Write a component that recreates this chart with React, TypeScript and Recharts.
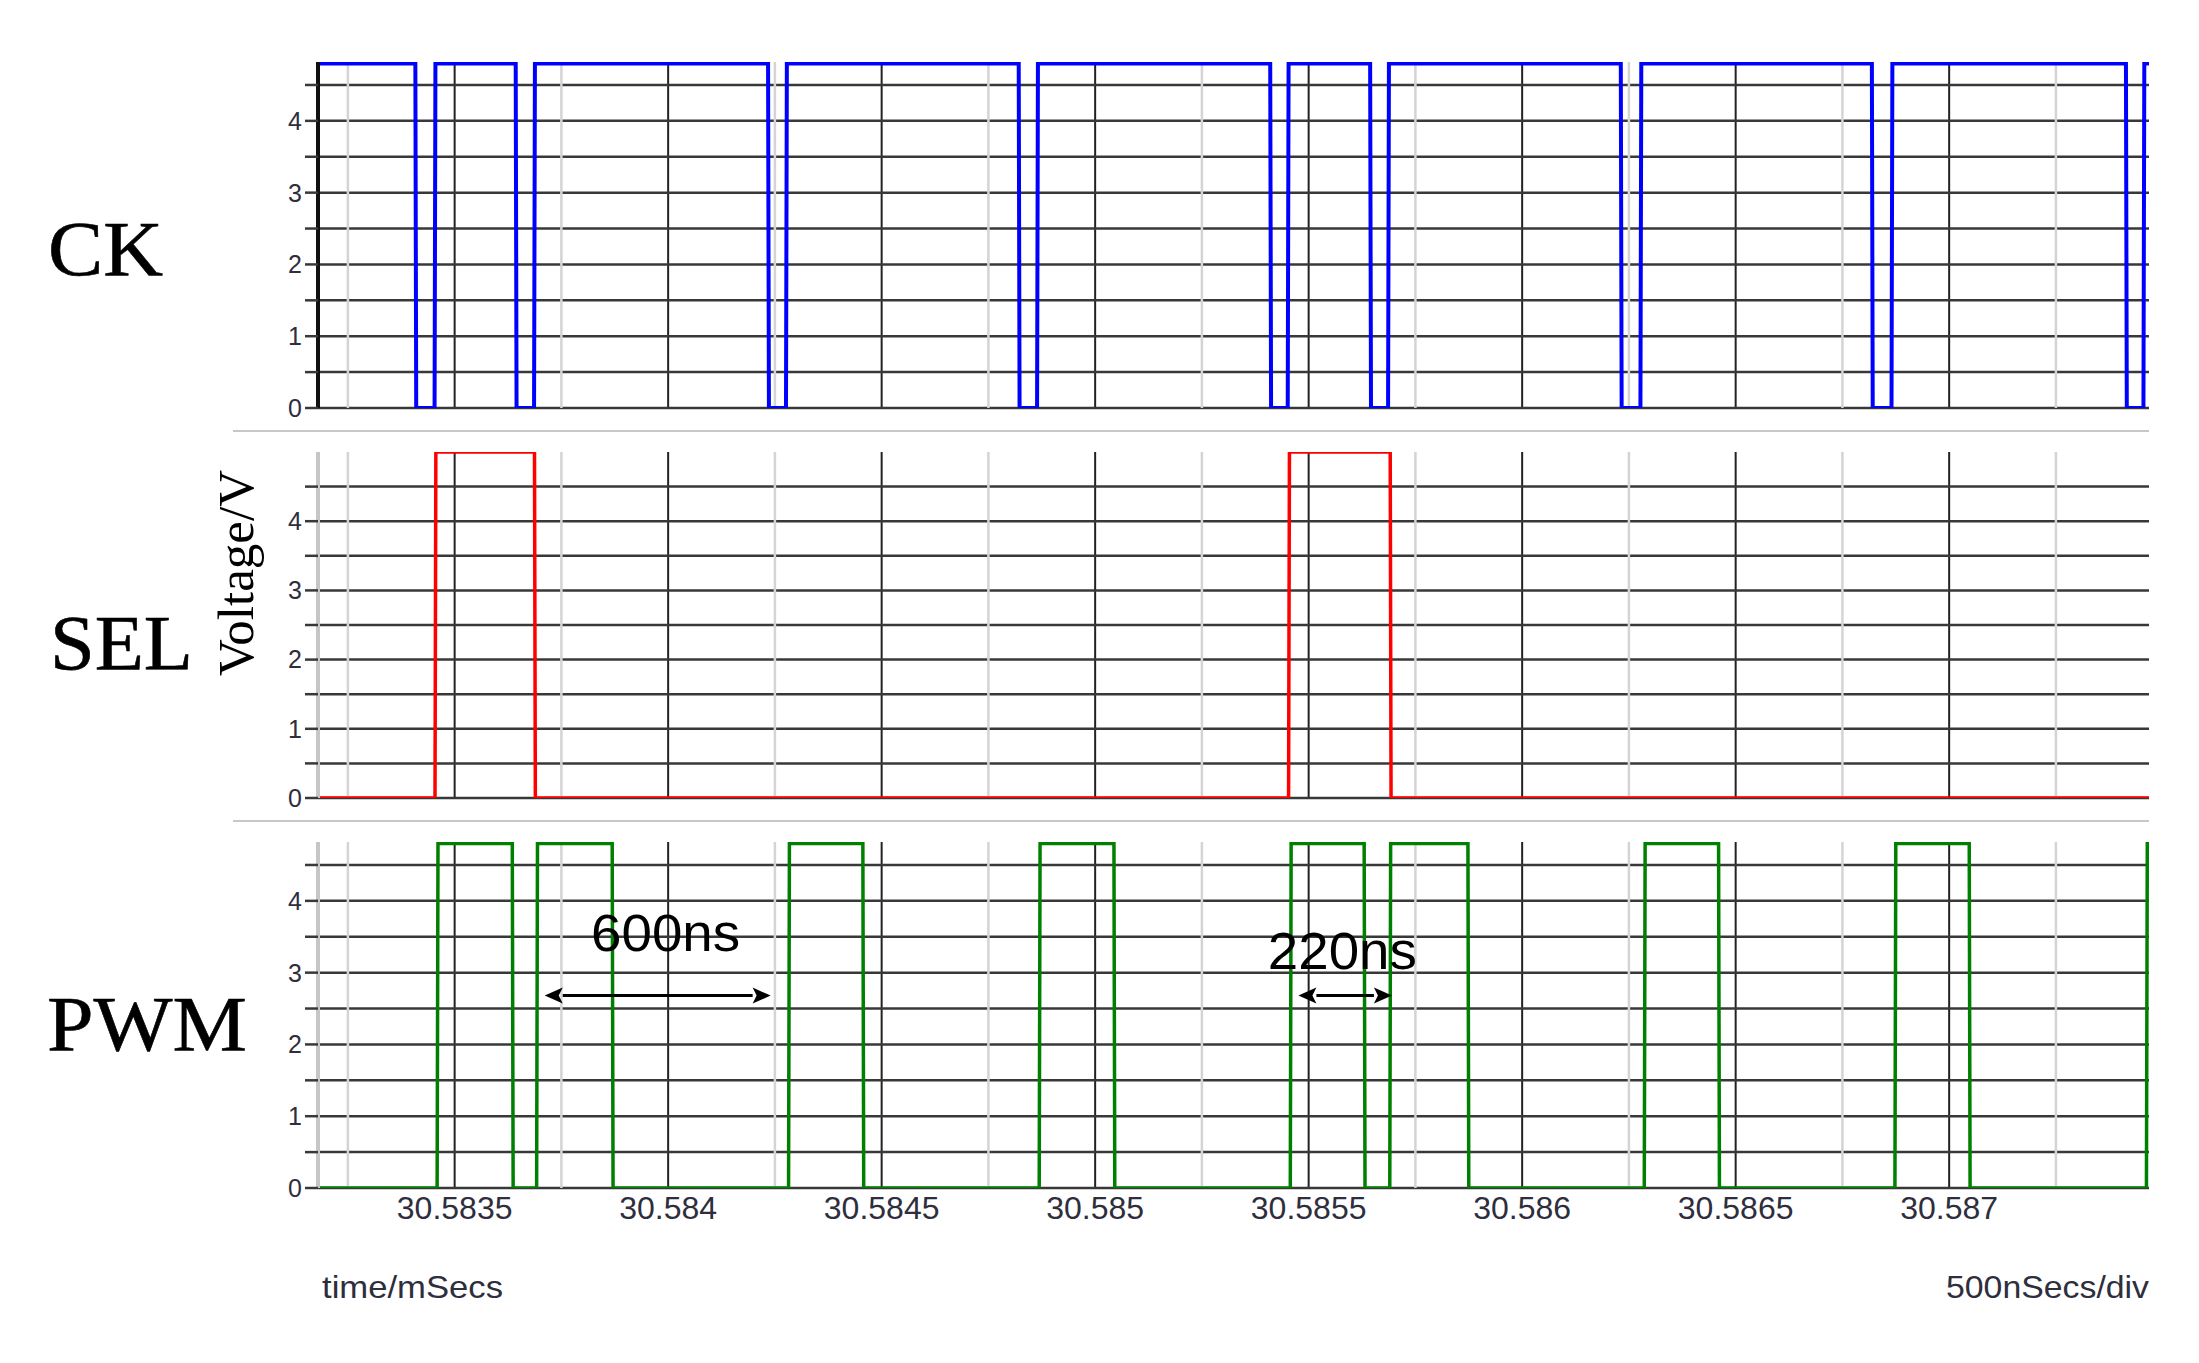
import React from "react";
import {
  LineChart,
  Line,
  XAxis,
  YAxis,
  CartesianGrid,
  ReferenceLine,
  ReferenceDot,
} from "recharts";

// time axis, mSecs
const timeDomain = [30.58318, 30.587468];
const majorTimes = [30.5835, 30.584, 30.5845, 30.585, 30.5855, 30.586, 30.5865, 30.587];
const minorTimes = [
  30.58325, 30.58375, 30.58425, 30.58475, 30.58525, 30.58575, 30.58625, 30.58675, 30.58725,
];
const voltTicks = [0, 0.5, 1, 1.5, 2, 2.5, 3, 3.5, 4, 4.5];

// switching instants (ms), alternating edges
const ckEdges = [
  30.583408, 30.583453, 30.583643, 30.583686, 30.584234, 30.584276, 30.584821, 30.584864,
  30.58541, 30.585451, 30.585644, 30.585686, 30.586231, 30.586277, 30.586819, 30.586865,
  30.587414, 30.587455,
];
const selEdges = [30.583454, 30.583687, 30.585453, 30.585691];
const pwmEdges = [
  30.583459, 30.583635, 30.583692, 30.583869, 30.584282, 30.584456, 30.584869, 30.585044,
  30.585457, 30.58563, 30.58569, 30.585873, 30.586286, 30.58646, 30.586873, 30.587047,
  30.587462,
];

const highLevels = { ck: 4.8, sel: 5.0, pwm: 4.8 };
const voltTops = { ck: 4.82, sel: 5.0, pwm: 4.82 };

// measurement arrows on the PWM trace
const spans = [
  { label: "600ns", from: 30.583711, to: 30.58424, at: 2.68, textT: 30.583994, textV: 3.55 },
  { label: "220ns", from: 30.585476, to: 30.585695, at: 2.68, textT: 30.585579, textV: 3.3 },
];

const EDGE = 0.000002;

const buildTrace = (edges: number[], startHigh: boolean, high: number) => {
  let level = startHigh;
  const pts = [{ t: timeDomain[0], v: level ? high : 0 }];
  edges.forEach((t) => {
    pts.push({ t, v: level ? high : 0 });
    level = !level;
    pts.push({ t: t + EDGE, v: level ? high : 0 });
  });
  pts.push({ t: timeDomain[1], v: level ? high : 0 });
  return pts;
};

const SANS = '"Liberation Sans", Arial, sans-serif';
const SERIF = '"Liberation Serif", "Times New Roman", serif';

const ArrowShape = (p: any) => {
  const { x1, y1, x2, y2 } = p;
  const h = 18;
  const w = 8;
  return (
    <g>
      <line x1={x1 + h} y1={y1} x2={x2 - h} y2={y2} stroke="#000" strokeWidth={3} />
      <polygon points={`${x1},${y1} ${x1 + h},${y1 - w} ${x1 + h - 4},${y1} ${x1 + h},${y1 + w}`} fill="#000" />
      <polygon points={`${x2},${y2} ${x2 - h},${y2 - w} ${x2 - h + 4},${y2} ${x2 - h},${y2 + w}`} fill="#000" />
    </g>
  );
};

const spanText = (label: string) => (p: any) => (
  <text
    x={p.cx}
    y={p.cy}
    dy={18}
    textAnchor="middle"
    fontSize={51}
    textLength={149}
    lengthAdjust="spacingAndGlyphs"
    fontFamily={SANS}
    fill="#000"
  >
    {label}
  </text>
);

type PanelProps = {
  top: number;
  height: number;
  marginTop: number;
  marginBottom: number;
  data: { t: number; v: number }[];
  color: string;
  strokeWidth: number;
  yTop: number;
  axisColor: string;
  showTime?: boolean;
  annotate?: boolean;
};

const Panel = (props: PanelProps) => (
  <div style={{ position: "absolute", left: 0, top: props.top }}>
    <LineChart
      width={2199}
      height={props.height}
      margin={{ top: props.marginTop, right: 50, bottom: props.marginBottom, left: 0 }}
    >
      {minorTimes.map((t) => (
        <ReferenceLine key={t} x={t} stroke="#d4d4d4" strokeWidth={2.5} />
      ))}
      <CartesianGrid horizontal={false} syncWithTicks stroke="#222" strokeWidth={2} />
      <CartesianGrid vertical={false} syncWithTicks stroke="#383838" strokeWidth={2.5} />
      <XAxis
        type="number"
        dataKey="t"
        domain={timeDomain}
        allowDataOverflow
        ticks={majorTimes}
        interval={0}
        hide={!props.showTime}
        height={props.showTime ? 60 : 0}
        axisLine={false}
        tickLine={false}
        tickSize={0}
        tickMargin={8}
        tick={{ fontSize: 32, fill: "#2e2e3c", fontFamily: SANS }}
        tickFormatter={(v) => String(v)}
      />
      <YAxis
        type="number"
        domain={[0, props.yTop]}
        allowDataOverflow
        ticks={voltTicks}
        interval={0}
        width={318}
        tickSize={13}
        tickMargin={3}
        axisLine={{ stroke: props.axisColor, strokeWidth: 4 }}
        tickLine={{ stroke: "#383838", strokeWidth: 2.5 }}
        tick={{ fontSize: 25, fill: "#2e2e3c", fontFamily: SANS }}
        tickFormatter={(v) => (Number.isInteger(v) ? String(v) : "")}
      />
      <Line
        data={props.data}
        dataKey="v"
        type="linear"
        stroke={props.color}
        strokeWidth={props.strokeWidth}
        strokeLinejoin="miter"
        dot={false}
        activeDot={false}
        isAnimationActive={false}
      />
      {props.annotate &&
        spans.map((s) => (
          <ReferenceLine
            key={s.label + "-arrow"}
            segment={[
              { x: s.from, y: s.at },
              { x: s.to, y: s.at },
            ]}
            shape={ArrowShape}
          />
        ))}
      {props.annotate &&
        spans.map((s) => (
          <ReferenceDot key={s.label} x={s.textT} y={s.textV} r={0} shape={spanText(s.label)} />
        ))}
    </LineChart>
  </div>
);

export default function App() {
  const ck = buildTrace(ckEdges, true, highLevels.ck);
  const sel = buildTrace(selEdges, false, highLevels.sel);
  const pwm = buildTrace(pwmEdges, false, highLevels.pwm);

  const bigLabel = { fontSize: 78, fontFamily: SERIF, fill: "#000", stroke: "#000", strokeWidth: 0.6 };

  return (
    <div
      style={{
        position: "absolute",
        left: 0,
        top: 0,
        width: 2199,
        height: 1363,
        background: "#fff",
        overflow: "hidden",
      }}
    >
      <Panel top={0} height={430} marginTop={62} marginBottom={22} data={ck} color="#0000ff" strokeWidth={4} yTop={voltTops.ck} axisColor="#111" />
      <Panel top={430} height={390} marginTop={22} marginBottom={22} data={sel} color="#ff0000" strokeWidth={3.5} yTop={voltTops.sel} axisColor="#c6c6c6" />
      <Panel top={820} height={543} marginTop={22} marginBottom={115} data={pwm} color="#008000" strokeWidth={3.5} yTop={voltTops.pwm} axisColor="#c6c6c6" showTime annotate />

      <svg
        width={2199}
        height={1363}
        style={{ position: "absolute", left: 0, top: 0, pointerEvents: "none" }}
      >
        <line x1={233} y1={431} x2={2149} y2={431} stroke="#c8c8c8" strokeWidth={2} />
        <line x1={233} y1={821} x2={2149} y2={821} stroke="#c8c8c8" strokeWidth={2} />
        <text x={48} y={275} textLength={115} lengthAdjust="spacingAndGlyphs" {...bigLabel}>CK</text>
        <text x={50} y={669} textLength={143} lengthAdjust="spacingAndGlyphs" {...bigLabel}>SEL</text>
        <text x={47} y={1050} textLength={200} lengthAdjust="spacingAndGlyphs" {...bigLabel}>PWM</text>
        <text
          transform="translate(253,573) rotate(-90)"
          textAnchor="middle"
          fontSize={50}
          textLength={206}
          lengthAdjust="spacingAndGlyphs"
          fontFamily={SERIF}
          fill="#000"
        >
          Voltage/V
        </text>
        <text x={322} y={1298} fontSize={32} textLength={181} lengthAdjust="spacingAndGlyphs" fontFamily={SANS} fill="#2e2e3c">
          time/mSecs
        </text>
        <text x={2149} y={1298} textAnchor="end" fontSize={32} textLength={203} lengthAdjust="spacingAndGlyphs" fontFamily={SANS} fill="#2e2e3c">
          500nSecs/div
        </text>
      </svg>
    </div>
  );
}
